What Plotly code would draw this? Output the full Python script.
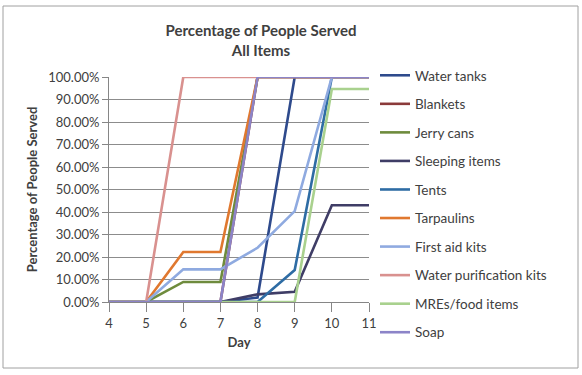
import plotly.graph_objects as go

days = [4, 5, 6, 7, 8, 9, 10, 11]
series_names = ["Water tanks", "Blankets", "Jerry cans", "Sleeping items", "Tents",
                "Tarpaulins", "First aid kits", "Water purification kits", "MREs/food items", "Soap"]
water_tanks = [0, 0, 0, 0, 0.02, 1.0, 1.0, 1.0]
blankets = [0, 0, 0, 0, 1.0, 1.0, 1.0, 1.0]
jerry_cans = [0, 0, 0.089, 0.089, 1.0, 1.0, 1.0, 1.0]
sleeping_items = [0, 0, 0, 0, 0.034, 0.045, 0.43, 0.43]
tents = [0, 0, 0, 0, 0.0, 0.142, 1.0, 1.0]
tarpaulins = [0, 0, 0.222, 0.222, 1.0, 1.0, 1.0, 1.0]
first_aid_kits = [0, 0, 0.145, 0.145, 0.241, 0.404, 1.0, 1.0]
water_purification_kits = [0, 0, 1.0, 1.0, 1.0, 1.0, 1.0, 1.0]
mres_food_items = [0, 0, 0, 0, 0, 0, 0.947, 0.947]
soap = [0, 0, 0, 0, 1.0, 1.0, 1.0, 1.0]
series_values = [water_tanks, blankets, jerry_cans, sleeping_items, tents,
                 tarpaulins, first_aid_kits, water_purification_kits, mres_food_items, soap]
colors = ["#2E4A8C", "#8B3A3A", "#6E8B3D", "#3F3D66", "#2E6CA4",
          "#E0782F", "#8FAAE0", "#D9918F", "#A9D18E", "#8C84C8"]

FONT = "Lato"
fig = go.Figure()
for i, (name, vals, col) in enumerate(zip(series_names, series_values, colors)):
    fig.add_trace(go.Scatter(x=days, y=vals, mode="lines", name=name,
                             legendgroup=str(i),
                             line=dict(color=col, width=2.6)))

W, H = 582, 375
L, R, T, B = 109, 369, 77, 302
pw, ph = R - L, B - T

def px(x):
    return (x - L) / pw

def py(y):
    return (B - y) / ph

fig.update_layout(
    width=W, height=H,
    margin=dict(l=L, r=W - R, t=T, b=H - B, autoexpand=False),
    paper_bgcolor="white", plot_bgcolor="white",
    font=dict(family=FONT, color="#404040", size=13),
    title=dict(text="<b>Percentage of People Served<br>All Items</b>",
               x=261 / W, xref="container", xanchor="center",
               y=1 - 36 / H, yref="container", yanchor="middle",
               font=dict(family=FONT, size=15, color="#404040")),
    showlegend=True,
    legend=dict(x=px(375), y=py(60), xanchor="left", yanchor="top",
                font=dict(family=FONT, size=13.5, color="#404040"),
                tracegroupgap=8, bgcolor="rgba(0,0,0,0)", maxheight=360,
                itemwidth=30, traceorder="grouped"),
    xaxis=dict(range=[4, 11], tickmode="array", tickvals=days,
               showgrid=False, showline=True, linecolor="#868686", linewidth=1,
               ticks="outside", ticklen=9, tickcolor="#868686",
               tickfont=dict(family=FONT, size=13, color="#404040"),
               title=dict(text="<b>Day</b>", font=dict(family=FONT, size=13, color="#404040"),
                          standoff=8),
               zeroline=False, fixedrange=True),
    yaxis=dict(range=[0, 1], tickmode="array",
               tickvals=[i / 10 for i in range(11)], tickformat=".2%",
               showgrid=True, gridcolor="#8C8C8C", gridwidth=1,
               showline=True, linecolor="#868686", linewidth=1,
               ticks="outside", ticklen=6, tickcolor="#868686",
               tickfont=dict(family=FONT, size=13, color="#404040"),
               title=dict(text="<b>Percentage of People Served</b>",
                          font=dict(family=FONT, size=13, color="#404040"), standoff=7),
               zeroline=False, fixedrange=True),
    shapes=[dict(type="rect", xref="paper", yref="paper",
                 x0=px(3), x1=px(578), y0=py(368), y1=py(6),
                 line=dict(color="#A0A0A0", width=1), fillcolor="rgba(0,0,0,0)",
                 layer="below")],
)

fig.write_html("out.html")
